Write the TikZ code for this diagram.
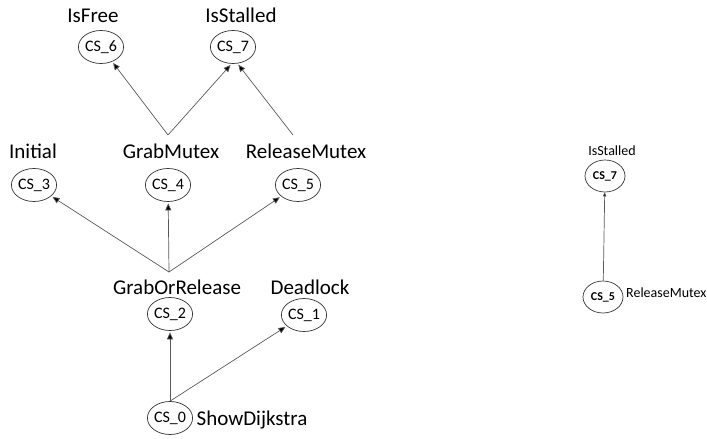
\documentclass[tikz,border=0pt]{standalone}
\usepackage{fontspec}
\setmainfont{Carlito}
\usetikzlibrary{shapes.geometric,arrows.meta,calc}
\begin{document}
\begin{tikzpicture}[x=1pt,y=-1pt,
  st/.style={ellipse,draw=black!80,line width=0.7pt,minimum width=42pt,minimum height=33pt,inner sep=0pt,font=\fontsize{16}{16}\selectfont},
  stb/.style={ellipse,draw=black!80,line width=0.7pt,minimum width=40pt,minimum height=32pt,inner sep=0pt,font=\fontsize{12}{12}\bfseries\selectfont},
  lab/.style={anchor=base,inner sep=0pt,font=\fontsize{21}{21}\selectfont},
  labs/.style={anchor=base,inner sep=0pt,font=\fontsize{14}{14}\selectfont},
  edge/.style={draw=black!65,line width=0.7pt,-{Triangle[length=7pt,width=6pt,fill=black]},shorten >=1.5pt},
  edges/.style={draw=black!65,line width=0.7pt,-{Triangle[length=4pt,width=3.5pt,fill=black]}}]
\useasboundingbox (0,0) rectangle (707,439);
% left tree
\node[st] (c6) at (101,47) {CS\_6};
\node[st] (c7) at (233,47) {CS\_7};
\node[st] (c3) at (34,185) {CS\_3};
\node[st] (c4) at (168,185) {CS\_4};
\node[st] (c5) at (298,185) {CS\_5};
\node[st] (c2) at (170,314) {CS\_2};
\node[st] (c1) at (304,315) {CS\_1};
\node[st] (c0) at (170,418) {CS\_0};
\node[lab] (l6) at (93,22) {IsFree};
\node[lab] (l7) at (241,22) {IsStalled};
\node[lab] (l3) at (33,158) {Initial};
\node[lab] (l4) at (171,158) {GrabMutex};
\node[lab] (l5) at (306,158) {ReleaseMutex};
\node[lab] (l2) at (177,294) {GrabOrRelease};
\node[lab] (l1) at (310,294) {Deadlock};
\node[lab] (l0) at (252,425) {ShowDijkstra};
\coordinate (j4) at (168,135);
\coordinate (j5) at (293,135);
\coordinate (j2) at (169,272);
\draw[edge] (j4) -- (c6);
\draw[edge] (j4) -- (c7.-95);
\draw[edge] (j5) -- (c7.-75);
\draw[edge] (j2) -- (c3);
\draw[edge] (j2) -- (c4);
\draw[edge] (j2) -- (c5);
\draw[edge] (c0.north) -- (c2);
\draw[edge] (c0.north) -- (c1);
% right
\node[stb] (r7) at (605,176) {CS\_7};
\node[stb] (r5) at (603,297) {CS\_5};
\node[labs] (rl7) at (612,155) {IsStalled};
\node[labs,anchor=base west] (rl5) at (626,297) {ReleaseMutex};
\draw[edges] (r5) -- (r7);
\end{tikzpicture}
\end{document}
